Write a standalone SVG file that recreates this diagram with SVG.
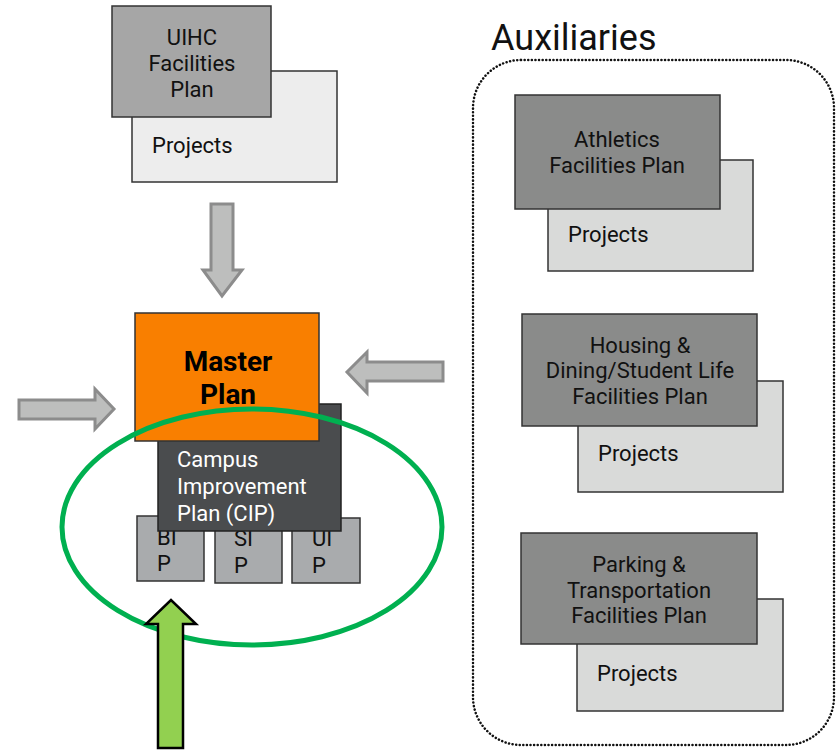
<svg xmlns="http://www.w3.org/2000/svg" width="838" height="751" viewBox="0 0 838 751">
<style>
text{font-family:Roboto,"Liberation Sans",sans-serif;font-size:22px;fill:#111}
.box{stroke:#333;stroke-width:1.5}
.front{fill:#8a8b8a}
.back{fill:#d9dad9}
.c{text-anchor:middle}
.garrow{fill:#bdbebd;stroke:#8c8c8c;stroke-width:3;stroke-linejoin:miter}
.sub{fill:#a9abad;stroke:#333;stroke-width:1.5}
</style>
<rect width="838" height="751" fill="#fff"/>
<g id="uihc">
<rect class="box" x="132" y="71" width="205" height="111" fill="#ededed"/>
<rect class="box" x="112" y="6" width="159" height="111" fill="#a6a6a6"/>
<text class="c" x="192" y="45">UIHC</text>
<text class="c" x="192" y="71">Facilities</text>
<text class="c" x="192" y="97">Plan</text>
<text x="152" y="153">Projects</text>
</g>
<g id="cip">
<rect class="sub" x="137" y="516" width="67" height="65"/>
<rect class="sub" x="215" y="519" width="67" height="64"/>
<rect class="sub" x="292" y="518" width="68" height="65"/>
<text x="157" y="545">BI</text><text x="157" y="571">P</text>
<text x="234" y="546">SI</text><text x="234" y="573">P</text>
<text x="312" y="546">UI</text><text x="312" y="573">P</text>
<rect x="158" y="404" width="183" height="127" fill="#4a4c4e" stroke="#222" stroke-width="1.5"/>
<text x="177" y="467" style="fill:#fff">Campus</text>
<text x="177" y="494" style="fill:#fff">Improvement</text>
<text x="177" y="521" style="fill:#fff">Plan (CIP)</text>
</g>
<g id="master">
<rect x="135" y="313" width="184" height="128" fill="#f97f00" stroke="#333" stroke-width="1.5"/>
<text class="c" x="228" y="371" style="font-weight:bold;font-size:28px;fill:#000">Master</text>
<text class="c" x="228" y="404" style="font-weight:bold;font-size:28px;fill:#000">Plan</text>
</g>
<g id="scope">
<ellipse cx="252" cy="527" rx="190" ry="118" fill="none" stroke="#00b050" stroke-width="5"/>
</g>
<g id="auxiliaries">
<text x="491" y="50" style="font-size:36px">Auxiliaries</text>
<rect x="473" y="60" width="361" height="685" rx="48" fill="none" stroke="#111" stroke-width="2.5" stroke-dasharray="0.1 3.5" stroke-linecap="round"/>
</g>
<g id="athletics">
<rect class="box back" x="548" y="160" width="205" height="111"/>
<rect class="box front" x="515" y="95" width="205" height="114"/>
<text class="c" x="617" y="147">Athletics</text>
<text class="c" x="617" y="173">Facilities Plan</text>
<text x="568" y="242">Projects</text>
</g>
<g id="housing">
<rect class="box back" x="578" y="381" width="205" height="111"/>
<rect class="box front" x="522" y="314" width="235" height="112"/>
<text class="c" x="640" y="353">Housing &amp;</text>
<text class="c" x="640" y="378">Dining/Student Life</text>
<text class="c" x="640" y="404">Facilities Plan</text>
<text x="598" y="461">Projects</text>
</g>
<g id="parking">
<rect class="box back" x="577" y="599" width="206" height="112"/>
<rect class="box front" x="521" y="533" width="236" height="111"/>
<text class="c" x="639" y="572">Parking &amp;</text>
<text class="c" x="639" y="598">Transportation</text>
<text class="c" x="639" y="623">Facilities Plan</text>
<text x="597" y="681">Projects</text>
</g>
<g id="connectors">
<path class="garrow" d="M211,204 H233 V270 H242 L222,296 L203,270 H211 Z"/>
<path class="garrow" d="M19,400 H95 V389 L114,409 L95,429 V419 H19 Z"/>
<path class="garrow" d="M443,362 H367 V352 L347,372 L367,393 V381 H443 Z"/>
<path d="M158,748 V624 H146 L171,600 L196,624 H183 V748 Z" fill="#92d050" stroke="#000" stroke-width="2.5" stroke-linejoin="miter"/>
</g>
</svg>
